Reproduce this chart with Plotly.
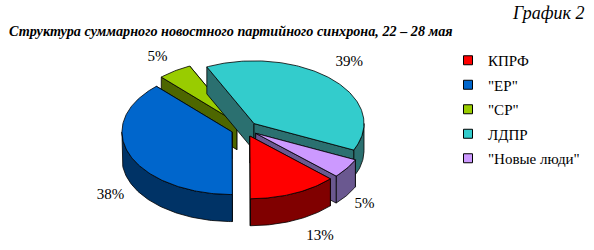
import numpy as np
import plotly.graph_objects as go

# ---------------- data ----------------
categories = ["КПРФ", '"ЕР"', '"СР"', "ЛДПР", '"Новые люди"']
shares = [13, 38, 5, 39, 5]          # percent
top_colors = ["#FF0000", "#0066CC", "#99CC00", "#33CCCC", "#CC99FF"]
side_colors = ["#800000", "#003366", "#4D6600", "#2B7070", "#6A5890"]
title_text = "Структура суммарного новостного партийного синхрона, 22 – 28 мая"
corner_text = "График 2"

# ---------------- geometry (pixels) ----------------
W, H = 594, 250
CX, CY = 244.5, 129.0
RX, RY = 110.0, 62.7
DEPTH = 27.0
PULL = 13.5
START = 133.0          # first slice starts here (deg, clockwise from 12 o'clock)
K = RY / RX
SERIF = "Liberation Serif"
# small label placement tweaks (styling), per slice in category order
LABEL_NUDGE = [(16, -5), (4, 21), (-3, 7), (0, 1), (-3, 7)]


def rad(a):
    return np.deg2rad(a)


def rim(a, ox, oy, dz=0.0):
    a = np.asarray(a, dtype=float)
    return CX + ox + RX * np.sin(rad(a)), CY + oy - RY * np.cos(rad(a)) + dz


def arc(a0, a1, ox, oy, dz=0.0):
    n = max(int(abs(a1 - a0)), 2) + 1
    return rim(np.linspace(a0, a1, n), ox, oy, dz)


total = float(sum(shares))
slices = []
acc = START
for i, v in enumerate(shares):
    span = 360.0 * v / total
    a0, a1 = acc, acc + span
    acc = a1
    m = (a0 + a1) / 2
    ox = PULL * np.sin(rad(m))
    oy = -PULL * K * np.cos(rad(m))
    slices.append(dict(i=i, a0=a0, a1=a1, m=m, ox=ox, oy=oy))

fig = go.Figure()


def poly(xs, ys, fill):
    fig.add_trace(go.Scatter(
        x=list(xs) + [xs[0]], y=list(ys) + [ys[0]], mode="lines", fill="toself",
        fillcolor=fill, line=dict(color="black", width=0.8),
        hoverinfo="skip", showlegend=False))


def radial_wall(s, a, col):
    tx, ty = CX + s["ox"], CY + s["oy"]
    rx_, ry_ = rim(a, s["ox"], s["oy"])
    poly([tx, float(rx_), float(rx_), tx], [ty, float(ry_), float(ry_) + DEPTH, ty + DEPTH], col)


# back-to-front painting order
order = sorted(slices, key=lambda s: -np.cos(rad(s["m"])))
for s in order:
    i = s["i"]
    side = side_colors[i]
    a0, a1 = s["a0"], s["a1"]
    vis0 = np.sin(rad(a0)) < 0
    vis1 = np.sin(rad(a1)) > 0
    if not vis0:
        radial_wall(s, a0, side)
    if not vis1:
        radial_wall(s, a1, side)
    for k in (-1, 0, 1):
        lo, hi = 90 + 360 * k, 270 + 360 * k
        t0, t1 = max(a0, lo), min(a1, hi)
        if t1 > t0:
            xt, yt = arc(t0, t1, s["ox"], s["oy"])
            xb, yb = arc(t1, t0, s["ox"], s["oy"], DEPTH)
            poly(np.concatenate([xt, xb]), np.concatenate([yt, yb]), side)
    if vis0:
        radial_wall(s, a0, side)
    if vis1:
        radial_wall(s, a1, side)
    xt, yt = arc(a0, a1, s["ox"], s["oy"])
    tx, ty = CX + s["ox"], CY + s["oy"]
    poly(np.concatenate([[tx], xt]), np.concatenate([[ty], yt]), top_colors[i])

# percentage labels
LAB = 25.0
lx, ly, lt = [], [], []
for s in slices:
    m = s["m"]
    x0, y0 = rim(m, s["ox"], s["oy"])
    sm, cm = np.sin(rad(m)), np.cos(rad(m))
    ndx, ndy = LABEL_NUDGE[s["i"]]
    lx.append(float(x0) + LAB * sm + ndx)
    ly.append(float(y0) - LAB * cm + DEPTH * max(0.0, -cm) + ndy)
    lt.append(f"{shares[s['i']]}%")
fig.add_trace(go.Scatter(x=lx, y=ly, text=lt, mode="text",
                         textfont=dict(family=SERIF, size=15, color="black"),
                         hoverinfo="skip", showlegend=False))

# legend entries
for name, col in zip(categories, top_colors):
    fig.add_trace(go.Scatter(
        x=[None], y=[None], mode="markers", name=name, legendgroup=name,
        marker=dict(symbol="square", size=9, color=col, line=dict(color="black", width=1))))

fig.add_annotation(text=f"<i>{corner_text}</i>", x=586 / W, y=1 - 13 / H, xref="paper", yref="paper",
                   xanchor="right", yanchor="middle", showarrow=False,
                   font=dict(family=SERIF, size=18, color="black"))
fig.add_annotation(text=f"<b><i>{title_text}</i></b>", x=7 / W, y=1 - 31 / H, xref="paper", yref="paper",
                   xanchor="left", yanchor="middle", showarrow=False,
                   font=dict(family=SERIF, size=14.2, color="black"))

fig.update_layout(
    width=W, height=H, margin=dict(l=0, r=0, t=0, b=0),
    paper_bgcolor="white", plot_bgcolor="white",
    font=dict(family=SERIF),
    xaxis=dict(range=[0, W], visible=False, fixedrange=True),
    yaxis=dict(range=[H, 0], visible=False, fixedrange=True),
    showlegend=True,
    legend=dict(x=448 / W, y=1 - 44 / H, xanchor="left", yanchor="top",
                font=dict(family=SERIF, size=15, color="black"),
                bgcolor="rgba(0,0,0,0)", tracegroupgap=2, itemwidth=30),
)

fig.write_html("out.html")
